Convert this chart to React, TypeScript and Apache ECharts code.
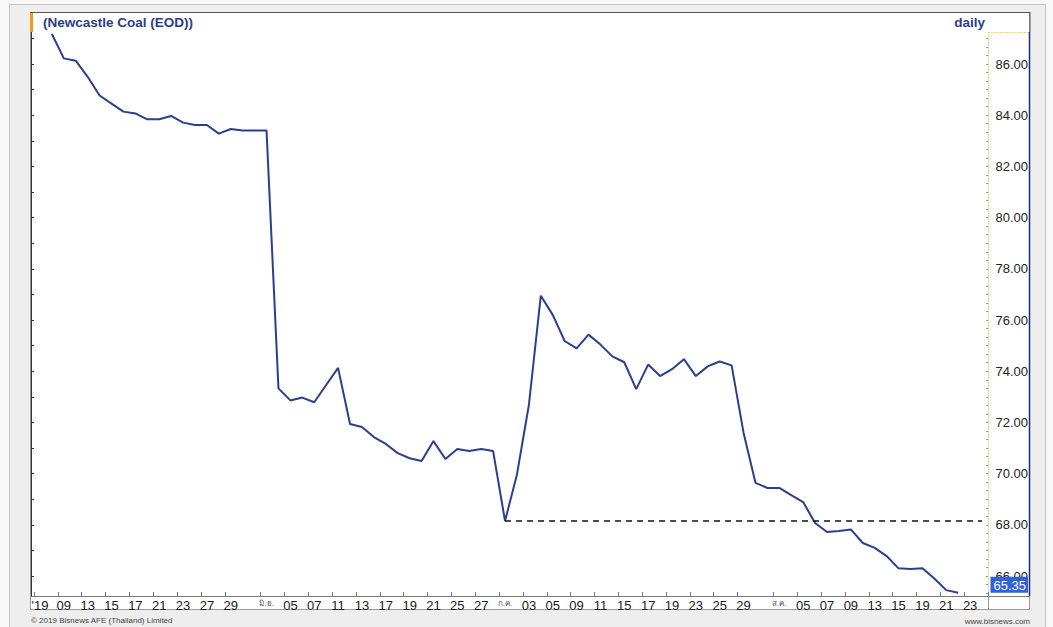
import React, { useEffect, useRef } from "react";
import * as echarts from "echarts";

// Trading days (MM-DD, 2019) shown on the category axis
const categories: string[] = [
  "05-07", "05-08", "05-09", "05-10", "05-13", "05-14", "05-15", "05-16", "05-17",
  "05-20", "05-21", "05-22", "05-23", "05-24", "05-27", "05-28", "05-29", "05-30", "05-31",
  "06-03", "06-04", "06-05", "06-06", "06-07", "06-10", "06-11", "06-12", "06-13", "06-14",
  "06-17", "06-18", "06-19", "06-20", "06-21", "06-24", "06-25", "06-26", "06-27", "06-28",
  "07-01", "07-02", "07-03", "07-04", "07-05", "07-08", "07-09", "07-10", "07-11", "07-12",
  "07-15", "07-16", "07-17", "07-18", "07-19", "07-22", "07-23", "07-24", "07-25", "07-26",
  "07-29", "07-30", "07-31", "08-01", "08-02", "08-05", "08-06", "08-07", "08-08", "08-09",
  "08-12", "08-13", "08-14", "08-15", "08-16", "08-19", "08-20", "08-21", "08-22", "08-23",
  "08-26",
];

// Newcastle Coal EOD close (USD/t), null where no line is drawn
const prices: (number | null)[] = [
  null, 87.17, 86.22, 86.13, 85.5, 84.77, 84.45, 84.14, 84.07,
  83.84, 83.84, 83.97, 83.71, 83.62, 83.62, 83.28, 83.46, 83.4, 83.4,
  83.4, 73.33, 72.86, 72.97, 72.79, 73.46, 74.13, 71.94, 71.82, 71.43,
  71.16, 70.8, 70.6, 70.49, 71.27, 70.57, 70.96, 70.88, 70.96, 70.88,
  68.15, 69.97, 72.68, 76.95, 76.2, 75.18, 74.89, 75.43, 75.04, 74.58,
  74.35, 73.3, 74.26, 73.81, 74.08, 74.47, 73.81, 74.19, 74.38, 74.23,
  71.6, 69.64, 69.44, 69.44, 69.16, 68.89, 68.07, 67.72, 67.76, 67.82,
  67.29, 67.1, 66.78, 66.3, 66.27, 66.3, 65.9, 65.45, 65.35, null,
  null,
];

// Date-axis tick labels
const xTickLabels: Record<string, string> = {
  "05-07": "'19", "05-09": "09", "05-13": "13", "05-15": "15", "05-17": "17",
  "05-21": "21", "05-23": "23", "05-27": "27", "05-29": "29",
  "06-03": "มิ.ย.", "06-05": "05", "06-07": "07", "06-11": "11", "06-13": "13",
  "06-17": "17", "06-19": "19", "06-21": "21", "06-25": "25", "06-27": "27",
  "07-01": "ก.ค.", "07-03": "03", "07-05": "05", "07-09": "09", "07-11": "11",
  "07-15": "15", "07-17": "17", "07-19": "19", "07-23": "23", "07-25": "25", "07-29": "29",
  "08-01": "ส.ค.", "08-05": "05", "08-07": "07", "08-09": "09", "08-13": "13",
  "08-15": "15", "08-19": "19", "08-21": "21", "08-23": "23",
};

// Price axis labels
const yTickValues: number[] = [66, 68, 70, 72, 74, 76, 78, 80, 82, 84, 86];
const leftTickValues: number[] = [66, 67, 68, 69, 70, 71, 72, 73, 74, 75, 76, 77, 78, 79, 80, 81, 82, 83, 84, 85, 86, 87];

const supportLevel = 68.15;
const supportFrom = "07-01";
const supportTo = "08-26";
const lastValue = 65.35;

const Y_MIN = 65.22;
const Y_MAX = 87.25;

const FONT = "'Liberation Sans', Arial, 'Noto Sans', 'DejaVu Sans', sans-serif";
const NAVY = "#2b3c8c";
const LINE = "#2a3f8f";

export default function App() {
  const ref = useRef<HTMLDivElement>(null);

  useEffect(() => {
    if (!ref.current) return;
    const chart = echarts.init(ref.current, undefined, { renderer: "svg" });

    const minorTicks: number[] = [];
    for (let k = 0; k * (1 / 3) + 65.333 <= Y_MAX; k++) minorTicks.push(65.333 + k / 3);

    const option: any = {
      animation: false,
      backgroundColor: "#f8f8f8",
      textStyle: { fontFamily: FONT },
      title: [
        {
          text: "(Newcastle Coal (EOD))",
          left: 43,
          top: 15,
          padding: 0,
          textStyle: { fontSize: 13.5, fontWeight: "bold", color: NAVY, fontFamily: FONT },
        },
        {
          text: "daily",
          right: 68,
          top: 15,
          padding: 0,
          textStyle: { fontSize: 13.5, fontWeight: "bold", color: NAVY, fontFamily: FONT },
        },
        {
          text: "© 2019 Bisnews AFE (Thailand) Limited",
          left: 31,
          top: 616,
          padding: 0,
          textStyle: { fontSize: 8, fontWeight: "normal", color: "#444", fontFamily: FONT },
        },
        {
          text: "www.bisnews.com",
          right: 23,
          top: 617,
          padding: 0,
          textStyle: { fontSize: 8, fontWeight: "normal", color: "#444", fontFamily: FONT },
        },
      ],
      grid: { left: 34, right: 65, top: 32, bottom: 31, containLabel: false },
      xAxis: {
        type: "category",
        data: categories,
        boundaryGap: true,
        axisLine: { show: true, lineStyle: { color: "#7a7a7a", width: 1 } },
        axisTick: {
          show: true,
          inside: true,
          length: 4,
          alignWithLabel: false,
          interval: (i: number, v: string) => !!xTickLabels[categories[i] ?? v],
          lineStyle: { color: "#777" },
        },
        axisLabel: {
          interval: (i: number, v: string) => !!xTickLabels[categories[i] ?? v],
          formatter: (v: string) => {
            const t = xTickLabels[v];
            if (!t) return "";
            return t.indexOf(".") >= 0 ? `{m|${t}}` : t;
          },
          color: "#1a1a1a",
          fontSize: 13,
          margin: 3,
          fontFamily: FONT,
          rich: { m: { fontSize: 8, color: "#555", fontFamily: FONT } },
        },
        splitLine: { show: false },
      },
      yAxis: [
        {
          type: "value",
          position: "right",
          min: Y_MIN,
          max: Y_MAX,
          axisLine: { show: true, lineStyle: { color: "#f0d57c", width: 1, type: "dotted" } },
          axisTick: {
            show: true,
            inside: true,
            length: 2,
            customValues: minorTicks,
            lineStyle: { color: "#999" },
          },
          axisLabel: {
            customValues: yTickValues,
            formatter: (v: number) => v.toFixed(2),
            align: "right",
            margin: 40,
            fontSize: 13,
            color: "#222",
            fontFamily: FONT,
          },
          splitLine: { show: false },
        },
        {
          type: "value",
          position: "left",
          offset: 3,
          min: Y_MIN,
          max: Y_MAX,
          axisLine: { show: true, lineStyle: { color: "#333", width: 1 } },
          axisTick: {
            show: true,
            inside: true,
            length: 3,
            customValues: leftTickValues,
            lineStyle: { color: "#333" },
          },
          axisLabel: { show: false },
          splitLine: { show: false },
        },
        {
          type: "value",
          position: "right",
          min: Y_MIN,
          max: Y_MAX,
          z: 10,
          axisLine: { show: false },
          axisTick: { show: false },
          axisLabel: {
            customValues: [lastValue],
            formatter: (v: number) => `{b|${v.toFixed(2)}}`,
            align: "right",
            verticalAlign: "bottom",
            margin: 40,
            rich: {
              b: {
                backgroundColor: "#2f63d6",
                color: "#ffffff",
                fontSize: 13,
                padding: [2, 2, 1, 3],
                fontFamily: FONT,
              },
            },
          },
          splitLine: { show: false },
        },
      ],
      series: [
        {
          type: "line",
          data: prices,
          yAxisIndex: 0,
          symbol: "none",
          connectNulls: false,
          lineStyle: { color: LINE, width: 2 },
          z: 3,
          markLine: {
            silent: true,
            symbol: ["none", "none"],
            label: { show: false },
            lineStyle: { color: "#111", type: [6, 5], width: 1.6 },
            data: [[{ coord: [supportFrom, supportLevel] }, { coord: [supportTo, supportLevel] }]],
          },
        },
      ],
      graphic: [
        {
          type: "rect",
          z: -20,
          shape: { x: 9.5, y: 4.5, width: 1036, height: 640 },
          style: { fill: "#eeeeee", stroke: "#c6c6c6", lineWidth: 1 },
        },
        {
          type: "rect",
          z: -19,
          shape: { x: 30.5, y: 12.5, width: 999, height: 597 },
          style: { fill: "#ffffff", stroke: "#9a9a9a", lineWidth: 1 },
        },
        {
          type: "line",
          z: -18,
          shape: { x1: 30, y1: 12.5, x2: 1030, y2: 12.5 },
          style: { stroke: "#555", lineWidth: 1 },
        },
        {
          type: "line",
          z: -18,
          shape: { x1: 1030, y1: 12, x2: 1030, y2: 32 },
          style: { stroke: "#555", lineWidth: 1 },
        },
        {
          type: "rect",
          z: 5,
          shape: { x: 30, y: 13, width: 3, height: 19 },
          style: { fill: "#f39c12" },
        },
        {
          type: "line",
          z: 5,
          shape: { x1: 988, y1: 32.5, x2: 1029, y2: 32.5 },
          style: { stroke: "#f0d57c", lineWidth: 1, lineDash: [2, 1] },
        },
        {
          type: "line",
          z: 5,
          shape: { x1: 1029.5, y1: 32, x2: 1029.5, y2: 596 },
          style: { stroke: "#1f2a7a", lineWidth: 1.5 },
        },
        {
          type: "line",
          z: 5,
          shape: { x1: 31, y1: 596.5, x2: 1030, y2: 596.5 },
          style: { stroke: "#7a7a7a", lineWidth: 1 },
        },
        {
          type: "line",
          z: 5,
          shape: { x1: 988.5, y1: 596, x2: 988.5, y2: 609 },
          style: { stroke: "#9a9a9a", lineWidth: 1 },
        },
      ],
    };

    chart.setOption(option);
    return () => chart.dispose();
  }, []);

  return (
    <div
      ref={ref}
      style={{ position: "fixed", left: 0, top: 0, width: 1053, height: 627 }}
    />
  );
}
